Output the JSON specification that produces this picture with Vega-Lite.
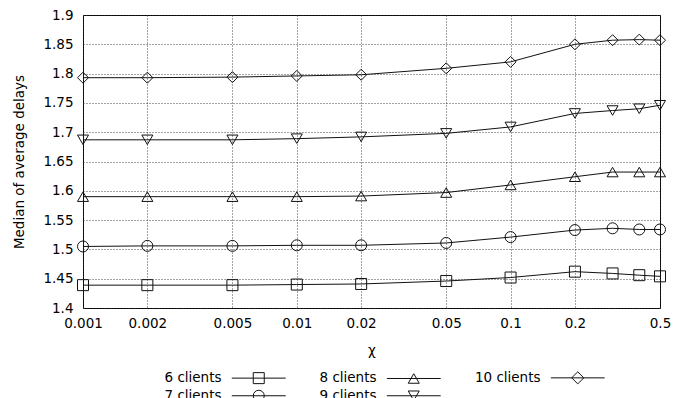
{
  "$schema": "https://vega.github.io/schema/vega-lite/v6.json",
  "width": 577,
  "height": 293,
  "autosize": {"type": "none"},
  "padding": {"left": 83, "top": 15, "right": 13, "bottom": 90},
  "background": "white",
  "config": {
    "font": "DejaVu Sans",
    "view": {"stroke": "black", "strokeWidth": 1},
    "axis": {
      "labelFont": "DejaVu Sans", "labelFontSize": 13.5, "labelColor": "#000",
      "titleFont": "DejaVu Sans", "titleFontSize": 13.5, "titleFontWeight": "normal", "titleColor": "#000",
      "grid": true, "gridColor": "#333", "gridDash": [1, 2], "gridWidth": 1, "gridOpacity": 0.9,
      "domain": false, "ticks": false
    },
    "legend": {
      "labelFont": "DejaVu Sans", "labelFontSize": 13.5, "labelColor": "#000"
    }
  },
  "data": {
    "values": [
      {"x": 0.001, "y": 1.439, "s": "6 clients"},
      {"x": 0.002, "y": 1.439, "s": "6 clients"},
      {"x": 0.005, "y": 1.439, "s": "6 clients"},
      {"x": 0.01, "y": 1.440, "s": "6 clients"},
      {"x": 0.02, "y": 1.441, "s": "6 clients"},
      {"x": 0.05, "y": 1.446, "s": "6 clients"},
      {"x": 0.1, "y": 1.452, "s": "6 clients"},
      {"x": 0.2, "y": 1.462, "s": "6 clients"},
      {"x": 0.3, "y": 1.459, "s": "6 clients"},
      {"x": 0.4, "y": 1.456, "s": "6 clients"},
      {"x": 0.5, "y": 1.454, "s": "6 clients"},
      {"x": 0.001, "y": 1.505, "s": "7 clients"},
      {"x": 0.002, "y": 1.506, "s": "7 clients"},
      {"x": 0.005, "y": 1.506, "s": "7 clients"},
      {"x": 0.01, "y": 1.507, "s": "7 clients"},
      {"x": 0.02, "y": 1.507, "s": "7 clients"},
      {"x": 0.05, "y": 1.511, "s": "7 clients"},
      {"x": 0.1, "y": 1.521, "s": "7 clients"},
      {"x": 0.2, "y": 1.533, "s": "7 clients"},
      {"x": 0.3, "y": 1.536, "s": "7 clients"},
      {"x": 0.4, "y": 1.534, "s": "7 clients"},
      {"x": 0.5, "y": 1.534, "s": "7 clients"},
      {"x": 0.001, "y": 1.590, "s": "8 clients"},
      {"x": 0.002, "y": 1.590, "s": "8 clients"},
      {"x": 0.005, "y": 1.590, "s": "8 clients"},
      {"x": 0.01, "y": 1.590, "s": "8 clients"},
      {"x": 0.02, "y": 1.591, "s": "8 clients"},
      {"x": 0.05, "y": 1.597, "s": "8 clients"},
      {"x": 0.1, "y": 1.610, "s": "8 clients"},
      {"x": 0.2, "y": 1.624, "s": "8 clients"},
      {"x": 0.3, "y": 1.632, "s": "8 clients"},
      {"x": 0.4, "y": 1.632, "s": "8 clients"},
      {"x": 0.5, "y": 1.632, "s": "8 clients"},
      {"x": 0.001, "y": 1.687, "s": "9 clients"},
      {"x": 0.002, "y": 1.687, "s": "9 clients"},
      {"x": 0.005, "y": 1.687, "s": "9 clients"},
      {"x": 0.01, "y": 1.689, "s": "9 clients"},
      {"x": 0.02, "y": 1.692, "s": "9 clients"},
      {"x": 0.05, "y": 1.698, "s": "9 clients"},
      {"x": 0.1, "y": 1.709, "s": "9 clients"},
      {"x": 0.2, "y": 1.732, "s": "9 clients"},
      {"x": 0.3, "y": 1.737, "s": "9 clients"},
      {"x": 0.4, "y": 1.740, "s": "9 clients"},
      {"x": 0.5, "y": 1.746, "s": "9 clients"},
      {"x": 0.001, "y": 1.793, "s": "10 clients"},
      {"x": 0.002, "y": 1.793, "s": "10 clients"},
      {"x": 0.005, "y": 1.794, "s": "10 clients"},
      {"x": 0.01, "y": 1.796, "s": "10 clients"},
      {"x": 0.02, "y": 1.798, "s": "10 clients"},
      {"x": 0.05, "y": 1.809, "s": "10 clients"},
      {"x": 0.1, "y": 1.820, "s": "10 clients"},
      {"x": 0.2, "y": 1.850, "s": "10 clients"},
      {"x": 0.3, "y": 1.857, "s": "10 clients"},
      {"x": 0.4, "y": 1.858, "s": "10 clients"},
      {"x": 0.5, "y": 1.857, "s": "10 clients"}
    ]
  },
  "encoding": {
    "x": {
      "field": "x", "type": "quantitative",
      "scale": {"type": "log", "domain": [0.001, 0.5], "nice": false},
      "axis": {
        "values": [0.001, 0.002, 0.005, 0.01, 0.02, 0.05, 0.1, 0.2, 0.5],
        "format": "~g", "labelPadding": 8, "labelFlush": false, "labelBound": false,
        "title": "χ", "titlePadding": 14
      }
    },
    "y": {
      "field": "y", "type": "quantitative",
      "scale": {"domain": [1.4, 1.9], "nice": false, "zero": false},
      "axis": {
        "values": [1.4, 1.45, 1.5, 1.55, 1.6, 1.65, 1.7, 1.75, 1.8, 1.85, 1.9],
        "format": "~g", "labelPadding": 10, "labelFlush": false,
        "title": "Median of average delays", "titlePadding": 16
      }
    }
  },
  "resolve": {"scale": {"shape": "independent"}, "legend": {"shape": "independent"}},
  "layer": [
    {
      "mark": {"type": "line", "color": "#111", "strokeWidth": 1},
      "encoding": {"detail": {"field": "s"}}
    },
    {
      "mark": {"type": "point", "filled": false, "stroke": "#111", "strokeWidth": 1, "size": 121, "opacity": 1},
      "encoding": {
        "shape": {
          "field": "s", "type": "nominal",
          "scale": {
            "domain": ["6 clients", "7 clients", "8 clients", "9 clients", "10 clients"],
            "range": ["square", "circle", "triangle-up", "triangle-down", "diamond"]
          },
          "legend": null
        }
      }
    },
    {
      "mark": {"type": "point", "filled": false, "stroke": "#111", "strokeWidth": 1, "size": 0},
      "encoding": {
        "shape": {
          "field": "s", "type": "nominal",
          "scale": {
            "domain": ["6 clients", "7 clients", "8 clients", "9 clients", "10 clients"],
            "range": [
              "M-4.9,0H4.9M-1,-1H1V1H-1Z",
              "M-4.9,0H4.9M-1,0A1,1,0,1,1,1,0A1,1,0,1,1,-1,0Z",
              "M-4.9,0H4.9M0,-0.866L-1,0.866L1,0.866Z",
              "M-4.9,0H4.9M0,0.866L-1,-0.866L1,-0.866Z",
              "M-4.9,0H4.9M-1.1,0L0,-1.1L1.1,0L0,1.1Z"
            ]
          },
          "legend": {
            "title": null,
            "orient": "none",
            "legendX": 169,
            "legendY": 356,
            "columns": 3,
            "columnPadding": 31,
            "rowPadding": 2,
            "padding": 0,
            "symbolSize": 121,
            "symbolStrokeWidth": 1,
            "symbolStrokeColor": "#111",
            "symbolOpacity": 1,
            "labelAlign": "right",
            "labelOffset": -44,
            "labelFontSize": 13.5,
            "labelExpr": "datum.label === '10 clients' ? datum.label : '\u2007' + datum.label"
          }
        }
      }
    }
  ]
}
